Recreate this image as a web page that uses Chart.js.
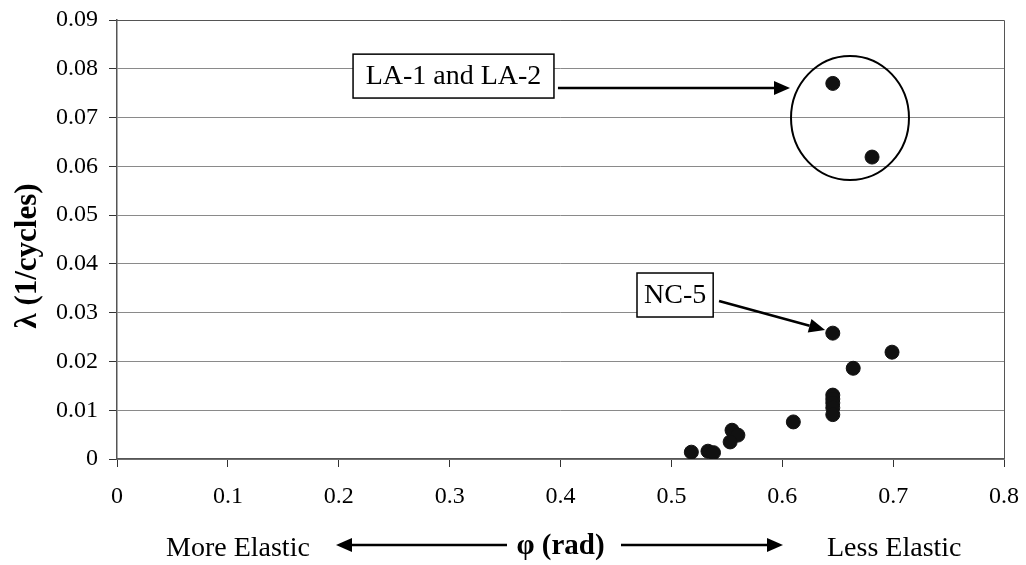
<!DOCTYPE html>
<html>
<head>
<meta charset="utf-8">
<script src="https://cdn.jsdelivr.net/npm/chart.js@4.4.1/dist/chart.umd.min.js"></script>
<style>
  html, body { margin: 0; padding: 0; background: #fff; }
  #wrap { width: 1026px; height: 565px; }
</style>
</head>
<body>
<div id="wrap"><canvas id="chart" width="1026" height="565"></canvas></div>
<script>
// phase angle (rad) and decay rate (1/cycles)
const phi    = [0.6456, 0.681, 0.6456, 0.699, 0.664, 0.6456, 0.6456, 0.6456, 0.6456, 0.6456, 0.610, 0.5547, 0.560, 0.553, 0.518, 0.533, 0.538];
const lambda = [0.0770, 0.0619, 0.0258, 0.0219, 0.0186, 0.0131, 0.0123, 0.0115, 0.0105, 0.0091, 0.0076, 0.0059, 0.0049, 0.0035, 0.0014, 0.0016, 0.0013];

const xTickLabels = ['0', '0.1', '0.2', '0.3', '0.4', '0.5', '0.6', '0.7', '0.8'];
const yTickLabels = ['0', '0.01', '0.02', '0.03', '0.04', '0.05', '0.06', '0.07', '0.08', '0.09'];

const serif = '"Liberation Serif", "Times New Roman", serif';

// callout boxes / arrows, in data units
const laBox = {x0: 0.2129, x1: 0.3941, yTop: 0.0830, yBot: 0.0740, text: 'LA-1 and LA-2'};
const laArrow = {x0: 0.3977, y0: 0.07606, x1: 0.6070, y1: 0.07606};
const laRing = {x: 0.6611, y: 0.06991, rx: 0.0532, ry: 0.01271};
const ncBox = {x0: 0.469, x1: 0.5377, yTop: 0.03813, yBot: 0.02911, text: 'NC-5'};
const ncArrow = {x0: 0.5430, y0: 0.03239, x1: 0.6386, y1: 0.02645};

function arrow(ctx, x0, y0, x1, y1) {
    const a = Math.atan2(y1 - y0, x1 - x0);
    const hl = 16, hw = 7;
    const bx = x1 - hl * Math.cos(a), by = y1 - hl * Math.sin(a);
    ctx.beginPath();
    ctx.moveTo(x0, y0);
    ctx.lineTo(bx, by);
    ctx.stroke();
    ctx.beginPath();
    ctx.moveTo(x1, y1);
    ctx.lineTo(bx + hw * Math.sin(a), by - hw * Math.cos(a));
    ctx.lineTo(bx - hw * Math.sin(a), by + hw * Math.cos(a));
    ctx.closePath();
    ctx.fill();
}

function textBox(ctx, xs, ys, b) {
    const l = xs.getPixelForValue(b.x0), r = xs.getPixelForValue(b.x1);
    const t = ys.getPixelForValue(b.yTop), bt = ys.getPixelForValue(b.yBot);
    ctx.fillStyle = '#fff';
    ctx.fillRect(l, t, r - l, bt - t);
    ctx.lineWidth = 1.5;
    ctx.strokeRect(l, t, r - l, bt - t);
    ctx.fillStyle = '#000';
    ctx.font = '28px ' + serif;
    ctx.textAlign = 'center';
    ctx.textBaseline = 'middle';
    ctx.fillText(b.text, (l + r) / 2, (t + bt) / 2 + 1);
}

const extras = {
    id: 'extras',
    afterDraw(chart) {
        const ctx = chart.ctx;
        const xs = chart.scales.x, ys = chart.scales.y;
        const area = chart.chartArea;
        ctx.save();
        // top / right frame
        ctx.strokeStyle = '#555';
        ctx.lineWidth = 1;
        ctx.beginPath();
        ctx.moveTo(area.left, area.top + 0.5);
        ctx.lineTo(area.right + 0.5, area.top + 0.5);
        ctx.lineTo(area.right + 0.5, area.bottom);
        ctx.stroke();

        ctx.strokeStyle = '#000';
        ctx.fillStyle = '#000';
        // ring around LA points
        ctx.lineWidth = 2;
        ctx.beginPath();
        ctx.ellipse(xs.getPixelForValue(laRing.x), ys.getPixelForValue(laRing.y),
            xs.getPixelForValue(laRing.rx) - xs.getPixelForValue(0),
            ys.getPixelForValue(0) - ys.getPixelForValue(laRing.ry), 0, 0, Math.PI * 2);
        ctx.stroke();

        ctx.lineWidth = 2.5;
        arrow(ctx, xs.getPixelForValue(laArrow.x0), ys.getPixelForValue(laArrow.y0),
            xs.getPixelForValue(laArrow.x1), ys.getPixelForValue(laArrow.y1));
        arrow(ctx, xs.getPixelForValue(ncArrow.x0), ys.getPixelForValue(ncArrow.y0),
            xs.getPixelForValue(ncArrow.x1), ys.getPixelForValue(ncArrow.y1));
        ctx.strokeStyle = '#000';
        textBox(ctx, xs, ys, laBox);
        textBox(ctx, xs, ys, ncBox);

        // y axis title
        ctx.save();
        ctx.translate(28, 256);
        ctx.rotate(-Math.PI / 2);
        ctx.font = 'bold 31px ' + serif;
        ctx.textAlign = 'center';
        ctx.textBaseline = 'middle';
        ctx.fillText('λ (1/cycles)', 0, 0);
        ctx.restore();

        // bottom caption row
        const cy = 549;
        const mid = xs.getPixelForValue(0.4);
        ctx.fillStyle = '#000';
        ctx.textBaseline = 'middle';
        ctx.font = '28px ' + serif;
        ctx.textAlign = 'left';
        ctx.fillText('More Elastic', 166, cy);
        ctx.fillText('Less Elastic', 827, cy);
        ctx.font = 'bold 29px ' + serif;
        ctx.textAlign = 'center';
        ctx.fillText('φ (rad)', mid, cy - 2);
        ctx.lineWidth = 2.5;
        arrow(ctx, 507, cy - 4, 336, cy - 4);
        arrow(ctx, 621, cy - 4, 783, cy - 4);
        ctx.restore();
    }
};

new Chart(document.getElementById('chart'), {
    type: 'scatter',
    data: {
        datasets: [{
            data: phi.map((v, i) => ({x: v, y: lambda[i]})),
            backgroundColor: '#111',
            borderColor: '#111',
            pointRadius: 7,
            pointHoverRadius: 7
        }]
    },
    options: {
        responsive: false,
        animation: false,
        events: [],
        layout: {padding: {top: 20, right: 22, left: 0, bottom: 0}},
        plugins: {legend: {display: false}, tooltip: {enabled: false}},
        scales: {
            x: {
                type: 'linear',
                min: 0, max: 0.8,
                afterFit(s) { s.height = 106; s.paddingLeft = 0; s.paddingRight = 0; },
                afterBuildTicks(s) { s.ticks = xTickLabels.map(t => ({value: parseFloat(t)})); },
                ticks: {
                    callback: (v, i) => xTickLabels[i],
                    color: '#000',
                    font: {family: serif, size: 24},
                    padding: 15,
                    maxRotation: 0
                },
                grid: {drawOnChartArea: false, tickLength: 8, tickColor: '#333'},
                border: {color: '#555', width: 1.5}
            },
            y: {
                type: 'linear',
                min: 0, max: 0.09,
                afterFit(s) { s.width = 117; s.paddingTop = 0; s.paddingBottom = 0; },
                afterBuildTicks(s) { s.ticks = yTickLabels.map(t => ({value: parseFloat(t)})); },
                ticks: {
                    callback: (v, i) => yTickLabels[i],
                    color: '#000',
                    font: {family: serif, size: 24},
                    padding: 11
                },
                grid: {color: '#8a8a8a', lineWidth: 1, tickLength: 8, tickColor: '#333'},
                border: {color: '#555', width: 1.5}
            }
        }
    },
    plugins: [extras]
});
</script>
</body>
</html>
